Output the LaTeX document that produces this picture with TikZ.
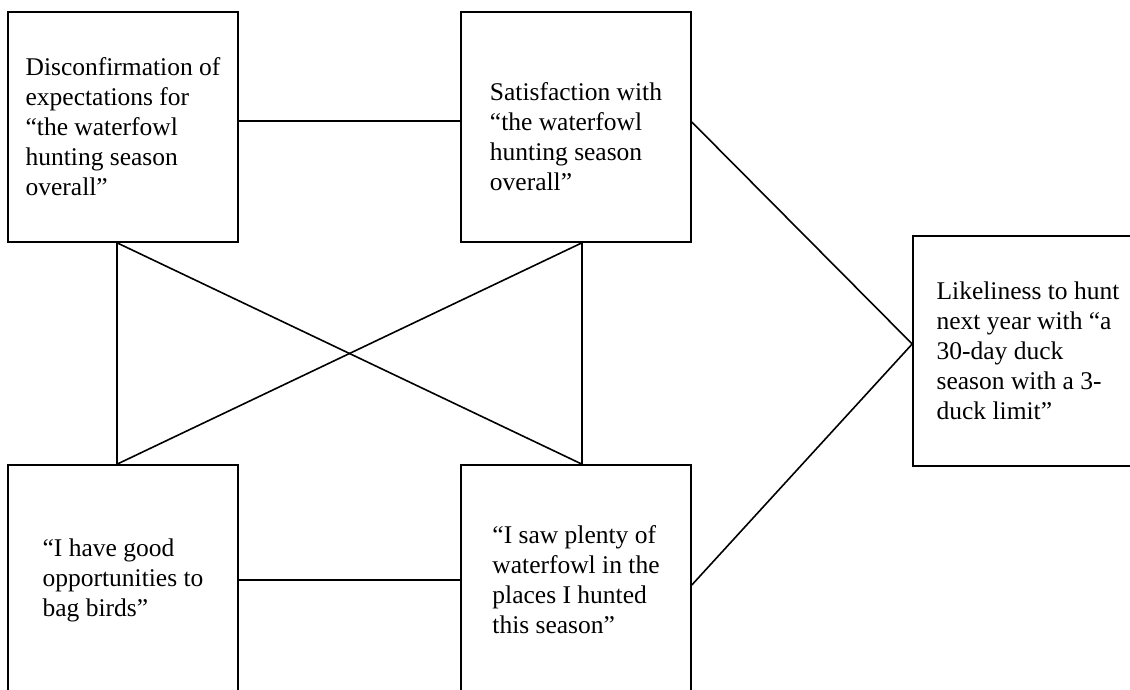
\documentclass[tikz,border=0pt]{standalone}
\usepackage{fontspec}
\setmainfont{Liberation Serif}
\usepackage{tikz}
\begin{document}
\begin{tikzpicture}[x=1pt,y=-1pt,
	box/.style={draw, line width=1.6pt, minimum width=230pt, minimum height=230pt,
		align=left, inner sep=0pt, font=\fontsize{25.5}{30}\selectfont},
	link/.style={line width=1.6pt}]
	
	\useasboundingbox (0,0) rectangle (1130,690);
	\clip (0,0) rectangle (1130,690);
	
	\node[box] (disc) at (123,127) {Disconfirmation of\\expectations for\\“the waterfowl\\hunting season\\overall”};
	\node[box] (satis) at (576,127) {\rule{0pt}{37pt}Satisfaction with\\“the waterfowl\\hunting season\\overall”};
	\node[box] (likely) at (1028,351) {Likeliness to hunt\\next year with “a\\30-day duck\\season with a 3-\\duck limit”};
	\node[box] (bag) at (123,580) {“I have good\\opportunities to\\bag birds”};
	\node[box] (plenty) at (576,580) {“I saw plenty of\\waterfowl in the\\places I hunted\\this season”};
	
	\coordinate (discs) at ([xshift=-6pt]disc.south);
	\coordinate (satiss) at ([xshift=6pt]satis.south);
	\coordinate (bagn) at ([xshift=-6pt]bag.north);
	\coordinate (plentyn) at ([xshift=6pt]plenty.north);
	\coordinate (likelyw) at ([yshift=7pt]likely.west);
	
	\draw[link] ([yshift=6pt]disc.east) -- ([yshift=6pt]satis.west);
	\draw[link] (bag.east) -- (plenty.west);
	\draw[link] (discs) -- (bagn);
	\draw[link] (satiss) -- (plentyn);
	\draw[link] (discs) -- (plentyn);
	\draw[link] (satiss) -- (bagn);
	\draw[link] ([yshift=5pt]satis.east) -- (likelyw);
	\draw[link] ([yshift=-5pt]plenty.east) -- (likelyw);
	
\end{tikzpicture}
\end{document}
